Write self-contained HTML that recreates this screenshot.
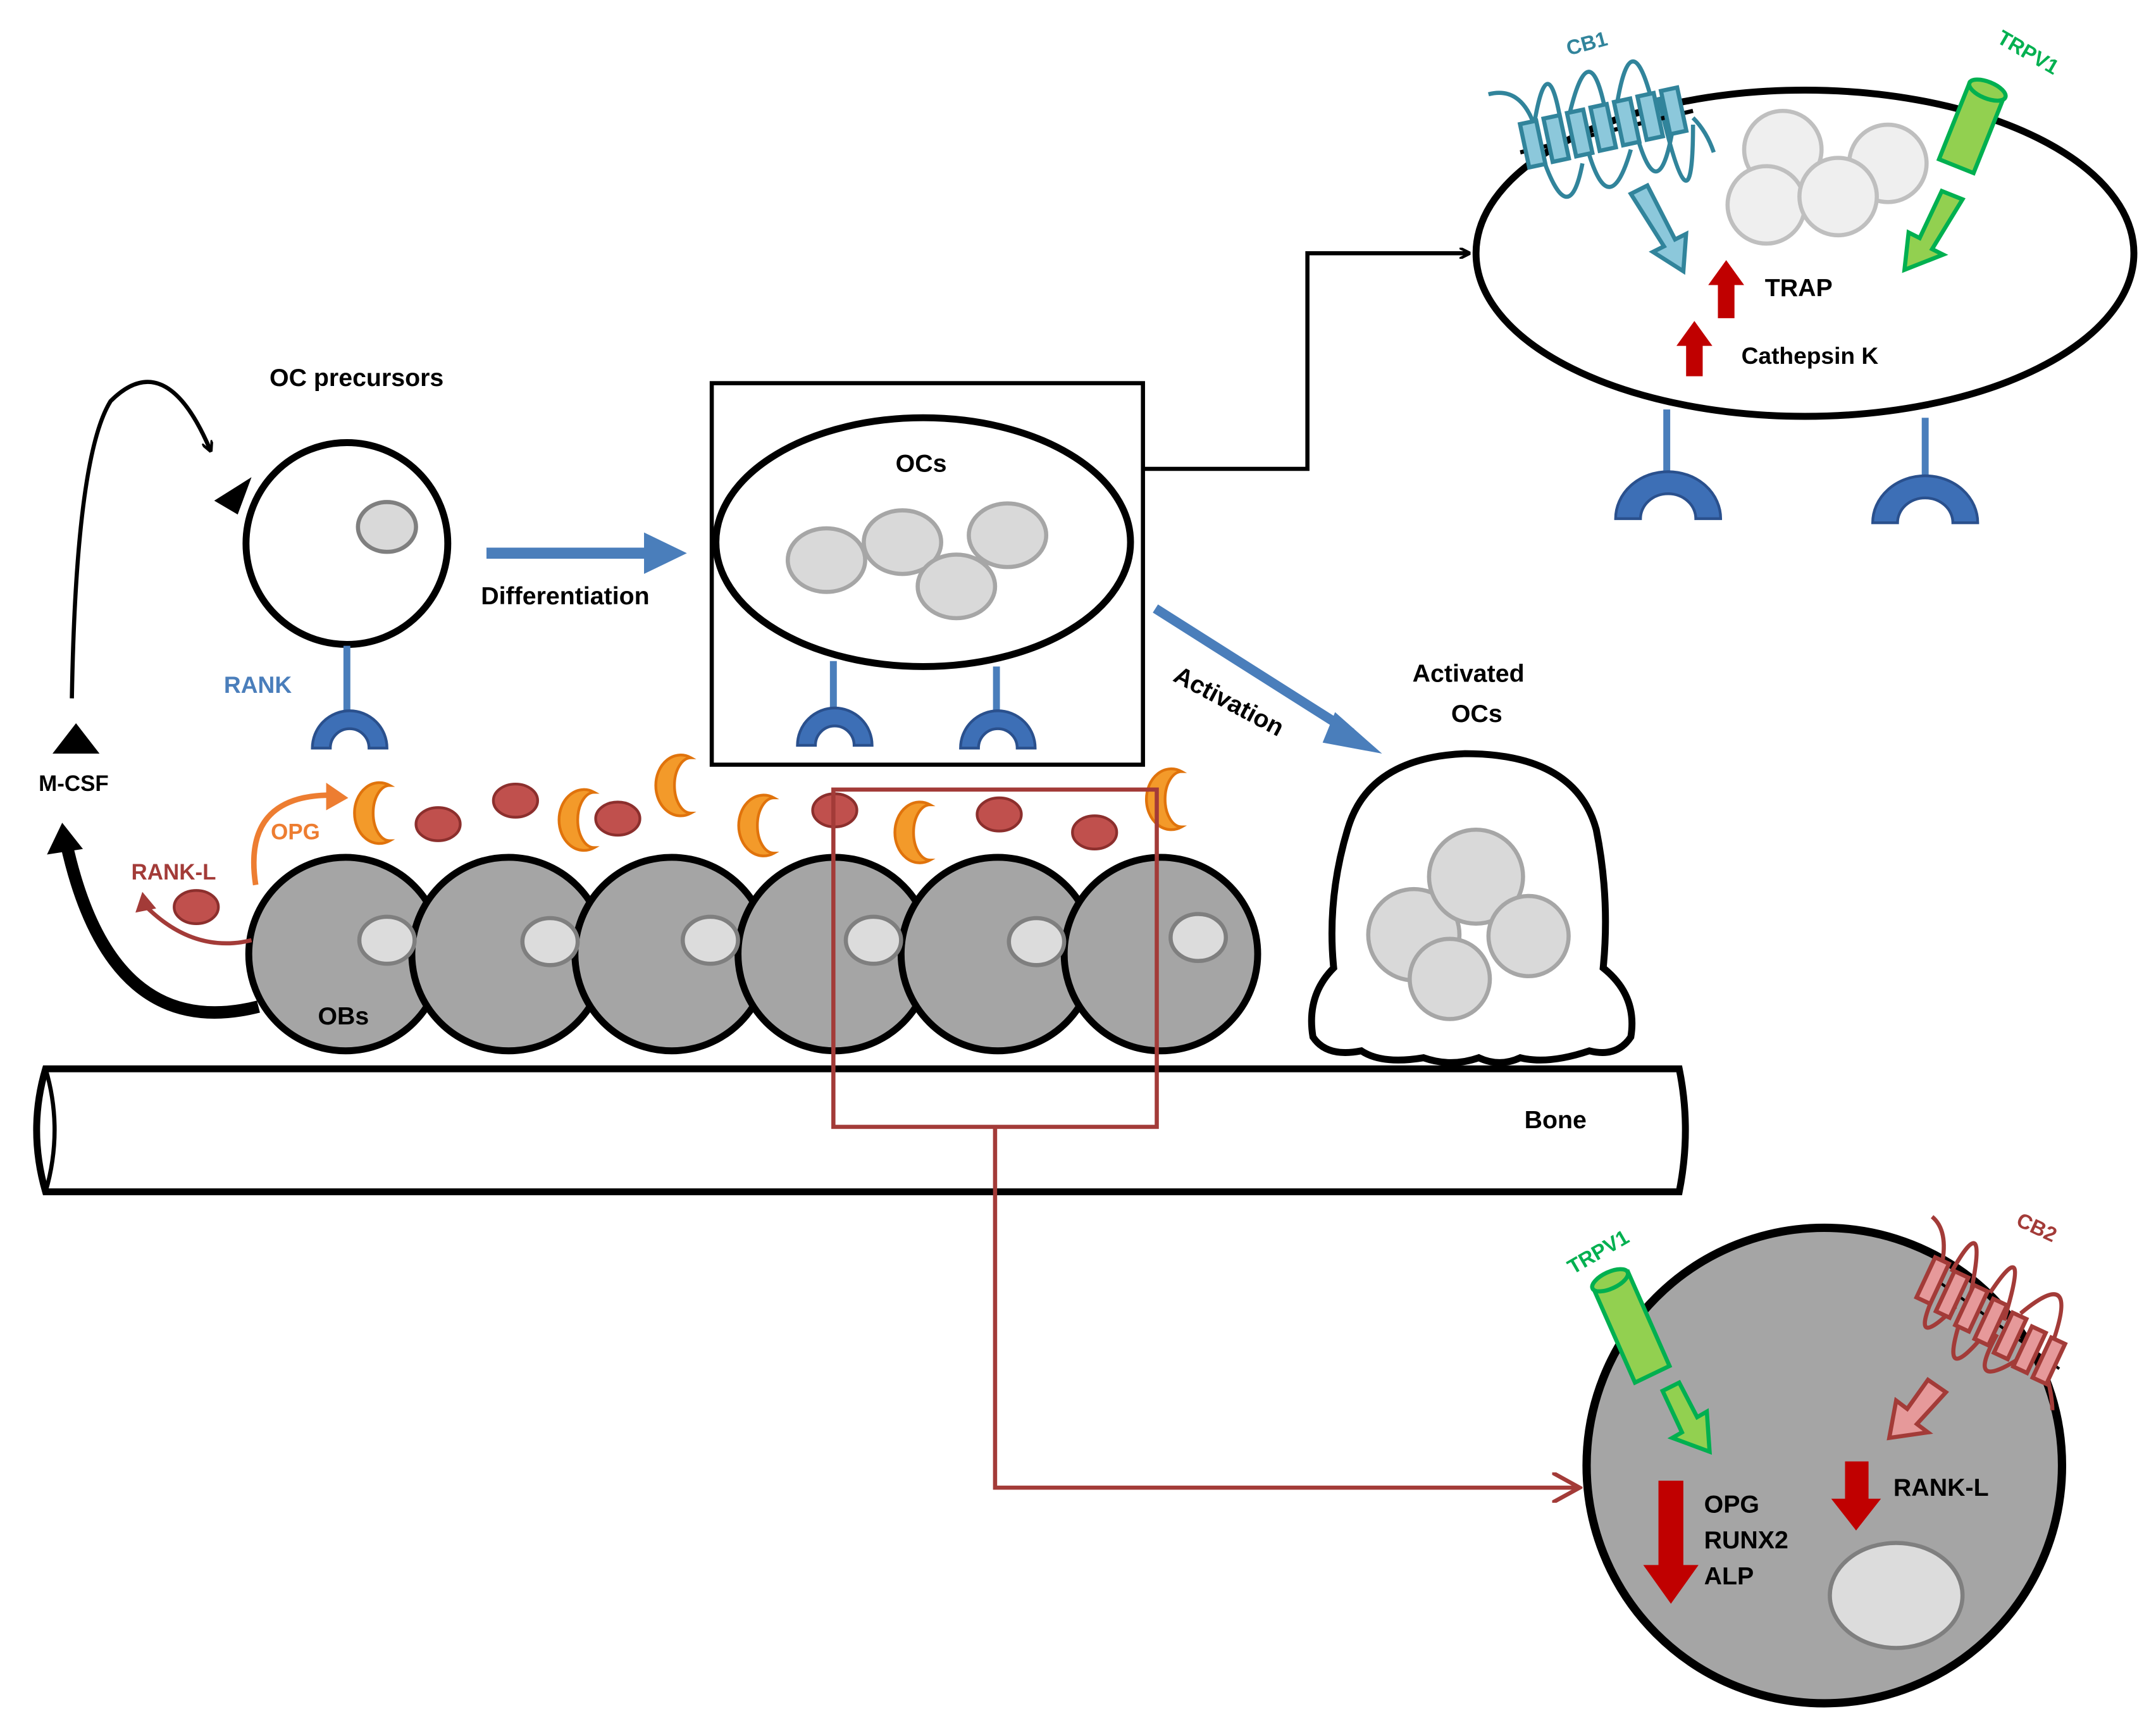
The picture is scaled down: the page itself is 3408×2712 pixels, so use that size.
<!DOCTYPE html>
<html><head><meta charset="utf-8"><style>
html,body{margin:0;padding:0;background:#fff;}
svg{display:block;}
text{font-family:"Liberation Sans",sans-serif;font-weight:bold;}
</style></head><body>
<svg width="3408" height="2712" viewBox="0 0 1560 1241" xmlns="http://www.w3.org/2000/svg">
<defs>
<marker id="ab" markerWidth="8" markerHeight="8" refX="6" refY="4" orient="auto" markerUnits="userSpaceOnUse"><path d="M0,0 L8,4 L0,8" fill="none" stroke="#000" stroke-width="2"/></marker>
<marker id="ar" markerWidth="22" markerHeight="22" refX="20" refY="11" orient="auto" markerUnits="userSpaceOnUse"><path d="M0,0 L20,11 L0,22" fill="none" stroke="#a33b38" stroke-width="3"/></marker>
<g id="rec"><path d="M-27,0 A27,27 0 0 1 27,0 L14,0 A14,14 0 0 0 -14,0 Z" fill="#3d6fb6" stroke="#2a508d" stroke-width="2"/></g>
<g id="rec2"><path d="M-38,0 A38,34 0 0 1 38,0 L20,0 A20,18 0 0 0 -20,0 Z" fill="#3d6fb6" stroke="#2a508d" stroke-width="2"/></g>
</defs>

<!-- Bone -->
<path d="M33,773 L1215,773 Q1224,817 1215,862 L33,862 Q20,817 33,773 Z" fill="#fff" stroke="#000" stroke-width="5"/>
<path d="M33,773 Q46,817 33,862" fill="none" stroke="#000" stroke-width="3"/>
<text x="1103" y="816" font-size="18">Bone</text>

<!-- OBs -->
<g stroke="#000" stroke-width="5" fill="#a5a5a5">
<circle cx="250" cy="690" r="70"/><circle cx="368" cy="690" r="70"/><circle cx="486" cy="690" r="70"/>
<circle cx="604" cy="690" r="70"/><circle cx="722" cy="690" r="70"/><circle cx="840" cy="690" r="70"/>
</g>
<g fill="#dcdcdc" stroke="#7f7f7f" stroke-width="3">
<ellipse cx="280" cy="680" rx="20" ry="17"/><ellipse cx="398" cy="681" rx="20" ry="17"/><ellipse cx="514" cy="680" rx="20" ry="17"/>
<ellipse cx="632" cy="680" rx="20" ry="17"/><ellipse cx="750" cy="681" rx="20" ry="17"/><ellipse cx="867" cy="678" rx="20" ry="17"/>
</g>
<text x="230" y="741" font-size="18">OBs</text>

<!-- crescents & dots -->
<g fill="#f39a2a" stroke="#e0730c" stroke-width="2">
<path d="M282,568 A18,22 0 1 0 282,608 A12,20 0 1 1 282,568Z"/>
<path d="M430,573 A18,22 0 1 0 430,613 A12,20 0 1 1 430,573Z"/>
<path d="M500,548 A18,22 0 1 0 500,588 A12,20 0 1 1 500,548Z"/>
<path d="M560,577 A18,22 0 1 0 560,617 A12,20 0 1 1 560,577Z"/>
<path d="M673,582 A18,22 0 1 0 673,622 A12,20 0 1 1 673,582Z"/>
<path d="M855,558 A18,22 0 1 0 855,598 A12,20 0 1 1 855,558Z"/>
</g>
<g fill="#c0504d" stroke="#8c2f2d" stroke-width="2">
<ellipse cx="317" cy="596" rx="16" ry="12"/><ellipse cx="373" cy="579" rx="16" ry="12"/><ellipse cx="447" cy="592" rx="16" ry="12"/>
<ellipse cx="604" cy="586" rx="16" ry="12"/><ellipse cx="723" cy="589" rx="16" ry="12"/><ellipse cx="792" cy="602" rx="16" ry="12"/>
<ellipse cx="142" cy="656" rx="16" ry="12"/>
</g>
<text x="95" y="636" font-size="16" fill="#a33b38" font-weight="normal">RANK-L</text>
<path d="M182,680 Q140,690 105,655" fill="none" stroke="#a33b38" stroke-width="3"/>
<path d="M98,660 L103,645 L113,657Z" fill="#a33b38"/>
<text x="196" y="607" font-size="16" fill="#ed7d31" font-weight="normal">OPG</text>
<path d="M185,640 Q175,575 240,575" fill="none" stroke="#ed7d31" stroke-width="4"/>
<path d="M236,566 L252,577 L236,586Z" fill="#ed7d31"/>

<!-- M-CSF -->
<path d="M187,728 Q80,755 48,610" fill="none" stroke="#000" stroke-width="9"/>
<path d="M34,618 L45,595 L60,614Z" fill="#000"/>
<path d="M38,545 L55,523 L72,545Z" fill="#000"/>
<text x="28" y="572" font-size="16">M-CSF</text>
<path d="M52,505 Q55,330 80,290 Q120,250 152,325" fill="none" stroke="#000" stroke-width="3" marker-end="url(#ab)"/>
<path d="M155,362 L182,345 L172,372 Z" fill="#000"/>

<!-- OC precursor -->
<text x="195" y="279" font-size="18">OC precursors</text>
<circle cx="251" cy="393" r="73" fill="#fff" stroke="#000" stroke-width="5"/>
<ellipse cx="280" cy="381" rx="21" ry="18" fill="#d9d9d9" stroke="#7f7f7f" stroke-width="3"/>
<line x1="251" y1="467" x2="251" y2="515" stroke="#4a7ebb" stroke-width="5"/>
<use href="#rec" x="253" y="541"/>
<text x="162" y="501" font-size="17" fill="#4a7ebb" font-weight="normal">RANK</text>

<!-- Differentiation -->
<line x1="352" y1="400" x2="470" y2="400" stroke="#4a7ebb" stroke-width="8"/>
<path d="M466,385 L497,400 L466,415Z" fill="#4a7ebb"/>
<text x="348" y="437" font-size="18">Differentiation</text>

<!-- OCs box -->
<rect x="515" y="277" width="312" height="276" fill="#fff" stroke="#000" stroke-width="3"/>
<ellipse cx="668" cy="392" rx="150" ry="90" fill="#fff" stroke="#000" stroke-width="5"/>
<g fill="#d9d9d9" stroke="#a6a6a6" stroke-width="3">
<ellipse cx="598" cy="405" rx="28" ry="23"/><ellipse cx="729" cy="387" rx="28" ry="23"/>
<ellipse cx="653" cy="392" rx="28" ry="23"/><ellipse cx="692" cy="424" rx="28" ry="23"/>
</g>
<text x="648" y="341" font-size="18">OCs</text>
<line x1="603" y1="478" x2="603" y2="514" stroke="#4a7ebb" stroke-width="5"/>
<line x1="721" y1="482" x2="721" y2="514" stroke="#4a7ebb" stroke-width="5"/>
<use href="#rec" x="604" y="539"/><use href="#rec" x="722" y="541"/>

<!-- Elbow -->
<polyline points="827,339 946,339 946,183 1062,183" fill="none" stroke="#000" stroke-width="3" marker-end="url(#ab)"/>

<!-- Top-right OC -->
<ellipse cx="1306" cy="183" rx="238" ry="118" fill="#fff" stroke="#000" stroke-width="5"/>
<g fill="#efefef" stroke="#bfbfbf" stroke-width="3">
<circle cx="1290" cy="108" r="28"/><circle cx="1366" cy="118" r="28"/><circle cx="1278" cy="148" r="28"/><circle cx="1330" cy="142" r="28"/>
</g>
<line x1="1206" y1="296" x2="1206" y2="345" stroke="#4a7ebb" stroke-width="5"/>
<line x1="1393" y1="302" x2="1393" y2="345" stroke="#4a7ebb" stroke-width="5"/>
<use href="#rec2" x="1207" y="375"/><use href="#rec2" x="1393" y="378"/>
<path d="M1243,230 L1243,206 L1236,206 L1249,188 L1262,206 L1255,206 L1255,230Z" fill="#c00000"/>
<path d="M1220,272 L1220,250 L1213,250 L1226,232 L1239,250 L1232,250 L1232,272Z" fill="#c00000"/>
<text x="1277" y="214" font-size="18">TRAP</text>
<text x="1260" y="263" font-size="17">Cathepsin K</text>
<!-- CB1 -->
<g stroke="#31849b" stroke-width="3" fill="none">
<path d="M1077,68 Q1100,62 1110,90"/>
<path d="M1110,90 Q1120,30 1130,92 M1135,85 Q1150,20 1162,82 M1170,75 Q1180,15 1195,72 M1200,70 Q1225,180 1225,90"/>
<path d="M1115,110 Q1135,170 1145,118 M1150,112 Q1165,160 1180,108 M1185,100 Q1200,150 1210,95 M1225,85 Q1235,95 1240,110"/>
<line x1="1100" y1="110" x2="1225" y2="80" stroke="#000" stroke-width="3"/>
</g>
<g fill="#8cc8db" stroke="#31849b" stroke-width="3">
<rect x="1103" y="88" width="12" height="32" transform="rotate(-12 1109 104)"/>
<rect x="1120" y="84" width="12" height="32" transform="rotate(-12 1126 100)"/>
<rect x="1137" y="80" width="12" height="32" transform="rotate(-12 1143 96)"/>
<rect x="1154" y="76" width="12" height="32" transform="rotate(-12 1160 92)"/>
<rect x="1171" y="72" width="12" height="32" transform="rotate(-12 1177 88)"/>
<rect x="1188" y="68" width="12" height="32" transform="rotate(-12 1194 84)"/>
<rect x="1205" y="64" width="12" height="32" transform="rotate(-12 1211 80)"/>
<path d="M1180,140 L1192,134 L1212,173 L1220,169 L1218,196 L1196,182 L1204,178 Z"/>
</g>
<text x="1135" y="40" font-size="15" fill="#31849b" font-weight="normal" transform="rotate(-15 1135 40)">CB1</text>
<!-- TRPV1 top -->
<g fill="#92d050" stroke="#00b050" stroke-width="3">
<path d="M1425,60 L1450,70 L1428,125 L1403,115 Z"/>
<ellipse cx="1438" cy="65" rx="14" ry="6" transform="rotate(22 1438 65)"/>
<path d="M1405,138 L1420,144 L1398,180 L1406,184 L1378,195 L1381,168 L1389,172 Z"/>
</g>
<text x="1444" y="30" font-size="15" fill="#00b050" font-weight="normal" transform="rotate(30 1444 30)">TRPV1</text>

<!-- Activation -->
<line x1="836" y1="440" x2="978" y2="530" stroke="#4a7ebb" stroke-width="7"/>
<path d="M966,515 L1000,545 L957,537Z" fill="#4a7ebb"/>
<text x="848" y="492" font-size="18" transform="rotate(28 848 492)">Activation</text>

<!-- Activated OC -->
<text x="1022" y="493" font-size="18">Activated</text>
<text x="1050" y="522" font-size="18">OCs</text>
<path d="M975,600 Q990,548 1060,545 Q1140,545 1155,600 Q1165,650 1160,700 Q1185,720 1180,750 Q1170,765 1150,760 Q1120,770 1100,765 Q1085,772 1070,765 Q1050,772 1030,765 Q1000,770 985,760 Q960,765 950,750 Q945,720 965,700 Q960,650 975,600 Z" fill="#fff" stroke="#000" stroke-width="5"/>
<g fill="#d9d9d9" stroke="#a6a6a6" stroke-width="3">
<circle cx="1023" cy="676" r="33"/><circle cx="1068" cy="634" r="34"/><circle cx="1106" cy="677" r="29"/><circle cx="1049" cy="708" r="29"/>
</g>

<!-- Red box and connector -->
<rect x="603" y="571" width="234" height="244" fill="none" stroke="#a33b38" stroke-width="3"/>
<polyline points="720,815 720,1076 1143,1076" fill="none" stroke="#a33b38" stroke-width="3" marker-end="url(#ar)"/>

<!-- Bottom-right OB -->
<circle cx="1320" cy="1060" r="172" fill="#a5a5a5" stroke="#000" stroke-width="6"/>
<ellipse cx="1372" cy="1154" rx="48" ry="38" fill="#dcdcdc" stroke="#7f7f7f" stroke-width="3"/>
<path d="M1200,1071 L1218,1071 L1218,1132 L1229,1132 L1209,1160 L1189,1132 L1200,1132 Z" fill="#c00000"/>
<path d="M1335,1057 L1352,1057 L1352,1084 L1361,1084 L1343,1107 L1325,1084 L1335,1084 Z" fill="#c00000"/>
<text x="1233" y="1094" font-size="18">OPG</text>
<text x="1233" y="1120" font-size="18">RUNX2</text>
<text x="1233" y="1146" font-size="18">ALP</text>
<text x="1370" y="1082" font-size="18">RANK-L</text>
<!-- TRPV1 bottom -->
<g fill="#92d050" stroke="#00b050" stroke-width="3">
<path d="M1153,932 L1178,920 L1208,988 L1183,1000 Z"/>
<ellipse cx="1165" cy="926" rx="14" ry="6" transform="rotate(-25 1165 926)"/>
<path d="M1203,1006 L1215,1000 L1228,1025 L1235,1021 L1237,1050 L1210,1040 L1217,1036 Z"/>
</g>
<text x="1138" y="922" font-size="15" fill="#00b050" font-weight="normal" transform="rotate(-30 1138 922)">TRPV1</text>
<!-- CB2 -->
<g stroke="#a33b38" stroke-width="3" fill="none">
<path d="M1398,880 Q1410,890 1405,915"/>
<path d="M1400,935 Q1380,980 1415,945 M1420,950 Q1400,1010 1440,960 M1445,965 Q1420,1010 1465,980"/>
<path d="M1412,920 Q1440,870 1425,940 M1440,935 Q1470,890 1450,955 M1462,950 Q1510,910 1480,985 M1480,990 Q1485,1010 1485,1020"/>
<line x1="1400" y1="925" x2="1490" y2="990" stroke="#000" stroke-width="2"/>
</g>
<g fill="#e6999a" stroke="#a33b38" stroke-width="3">
<rect x="1393" y="910" width="11" height="32" transform="rotate(25 1398 926)"/>
<rect x="1407" y="920" width="11" height="32" transform="rotate(25 1412 936)"/>
<rect x="1421" y="930" width="11" height="32" transform="rotate(25 1426 946)"/>
<rect x="1435" y="940" width="11" height="32" transform="rotate(25 1440 956)"/>
<rect x="1449" y="950" width="11" height="32" transform="rotate(25 1454 966)"/>
<rect x="1463" y="960" width="11" height="32" transform="rotate(25 1468 976)"/>
<rect x="1477" y="968" width="11" height="32" transform="rotate(25 1482 984)"/>
<path d="M1395,998 L1408,1007 L1387,1030 L1395,1036 L1367,1040 L1372,1013 L1380,1019 Z"/>
</g>
<text x="1458" y="886" font-size="15" fill="#a33b38" font-weight="normal" transform="rotate(25 1458 886)">CB2</text>
</svg>
</body></html>
